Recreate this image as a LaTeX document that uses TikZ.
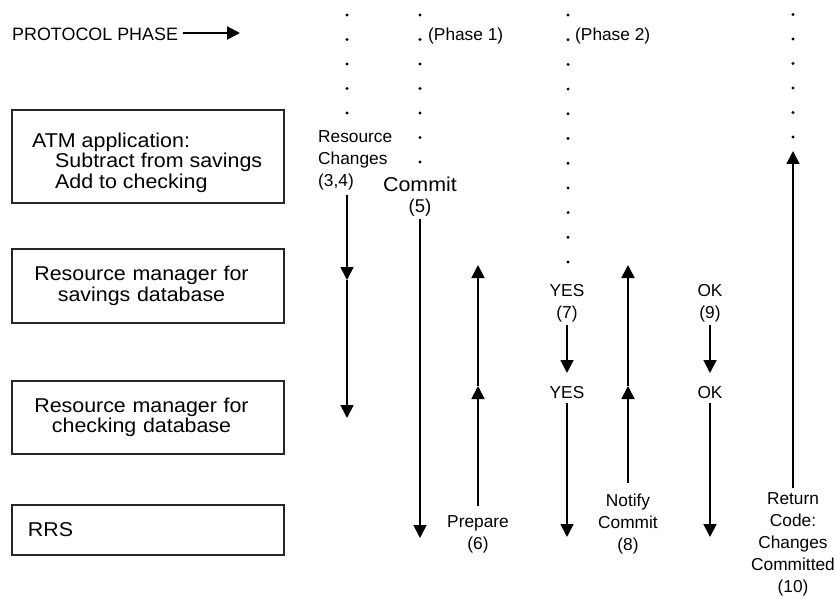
\documentclass[tikz,border=0pt]{standalone}
\usepackage{fontspec}
\setmainfont{Liberation Sans}
\newfontfamily\boxfont[FakeStretch=1.07]{Liberation Sans}
\newfontfamily\lblfont{Liberation Sans}
\usetikzlibrary{arrows.meta}
\newcommand\shl{\hspace*{-13pt}}
\begin{document}
\begin{tikzpicture}[x=1pt,y=-1pt,
  box/.style={draw=black!85, line width=1.6pt, minimum width=272pt, text width=272pt,
    inner xsep=0pt, inner ysep=0pt, font=\boxfont\fontsize{20}{20.5}\selectfont},
  boxtext/.style={inner sep=0pt, align=left, font=\boxfont\fontsize{20}{20.5}\selectfont},
  lbl/.style={font=\lblfont\fontsize{17.3}{22}\selectfont, inner sep=0pt, align=center},
  bigl/.style={font=\boxfont\fontsize{20}{21}\selectfont},
  arr/.style={line width=1.8pt, -{Triangle[width=13pt,length=13pt]}},
  dot/.style={fill=black}]
\useasboundingbox (0,0) rectangle (836,599);
\fill[white] (0,0) rectangle (836,599);

% protocol phase header
\node[lbl, anchor=base west, font=\lblfont\fontsize{17.9}{20}\selectfont] (pp) at (12,41) {PROTOCOL PHASE};
\coordinate (pptip) at (240,33);
\path (pp.east) ++(5,0) coordinate (ppst);
\draw[line width=2pt, -{Triangle[width=13pt,length=13pt]}] (ppst |- pptip) -- (pptip);

% dotted phase separators
\foreach \i in {0,...,4} \fill[dot] (347,15+24.5*\i) circle (1.6pt);
\foreach \i in {0,...,6} \fill[dot] (420,15+24.5*\i) circle (1.6pt);
\foreach \i in {0,...,10} \fill[dot] (568,15+24.7*\i) circle (1.6pt);
\foreach \i in {0,...,5} \fill[dot] (793,14.5+24.5*\i) circle (1.6pt);
\node[lbl, anchor=base west] (ph1) at (428,41) {(Phase 1)};
\node[lbl, anchor=base west] (ph2) at (575,41) {(Phase 2)};

% participant boxes
\node[box, minimum height=93pt] (atm) at (148,156.5) {};
\node[boxtext, anchor=north west] (atmtxt) at (32,132.6)
  {ATM application:\\\hspace*{23pt}Subtract from savings\\\hspace*{23pt}Add to checking};
\node[box, align=center, minimum height=74pt] (rms) at (148,286)
  {\shl Resource manager for\\\shl savings database};
\node[box, align=center, minimum height=73pt] (rmc) at (148,417.5)
  {\shl Resource manager for\\\shl checking database};
\node[box, align=left, minimum height=50pt] (rrs) at (148,530) {\hspace*{16pt}RRS};

% labels
\node[lbl, anchor=north west, align=left] (rc) at (318,130.5) {Resource\\Changes\\(3,4)};
\node[lbl, bigl, anchor=north] (cm) at (420,177) {Commit\\{\lblfont\fontsize{18.5}{21}\selectfont(5)}};
\node[lbl, anchor=north] (y7) at (567,284) {YES\\(7)};
\node[lbl, anchor=base] (y2) at (567,398) {YES};
\node[lbl, anchor=north] (ok9) at (710,284) {OK\\(9)};
\node[lbl, anchor=base] (ok2) at (710,398) {OK};
\node[lbl, anchor=north] (prep) at (478,515.5) {Prepare\\(6)};
\node[lbl, anchor=north] (nc) at (628,493.5) {Notify\\Commit\\(8)};
\node[lbl, anchor=north] (ret) at (793,492.5) {Return\\Code:\\Changes\\Committed\\(10)};

% arrow end points
\coordinate (rc0) at (347,195);
\coordinate (rc1) at (347,280);
\coordinate (rc2) at (347,418);
\coordinate (cmend) at (420,538);
\coordinate (p1) at (478,386);
\coordinate (p2) at (478,265);
\coordinate (ymid) at (567,373);
\coordinate (yend) at (567,537);
\coordinate (n1) at (628,386);
\coordinate (n2) at (628,265);
\coordinate (omid) at (710,373);
\coordinate (oend) at (710,537);
\coordinate (rtip) at (793,151);

% arrows
\draw[arr] (rc0) -- (rc1);
\draw[arr] (rc1) -- (rc2);
\draw[arr, shorten <=2pt] (cm.south) -- (cmend);
\draw[arr, shorten <=10pt] (prep.north) -- (p1);
\draw[arr] (p1) -- (p2);
\draw[arr, shorten <=3pt] (y7.south) -- (ymid);
\draw[arr, shorten <=5pt] (y2.south) -- (yend);
\draw[arr, shorten <=11pt] (nc.north) -- (n1);
\draw[arr] (n1) -- (n2);
\draw[arr, shorten <=3pt] (ok9.south) -- (omid);
\draw[arr, shorten <=5pt] (ok2.south) -- (oend);
\draw[arr, shorten <=5pt] (ret.north) -- (rtip);
\end{tikzpicture}
\end{document}
